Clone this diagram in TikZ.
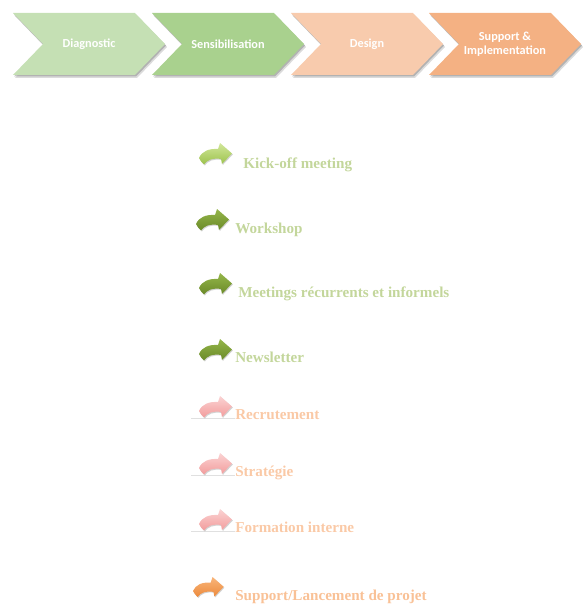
\documentclass[tikz,border=0pt]{standalone}
\usepackage{fontspec}
\setmainfont{Liberation Serif}
\newfontfamily\chevfont{Carlito}
\definecolor{diagfill}{HTML}{C5E0B4}
\definecolor{sensfill}{HTML}{A9D18E}
\definecolor{desfill}{HTML}{F8CBAD}
\definecolor{supfill}{HTML}{F4B183}
\definecolor{greentext}{HTML}{C3D69B}
\definecolor{peachtext}{HTML}{FAC9A6}
\definecolor{orangetext}{HTML}{F9C196}
\definecolor{limetop}{HTML}{D2E79A}
\definecolor{limebot}{HTML}{9CC24C}
\definecolor{olivetop}{HTML}{95B64A}
\definecolor{olivebot}{HTML}{6A8A28}
\definecolor{pinktop}{HTML}{FBD3D3}
\definecolor{pinkbot}{HTML}{F29C9C}
\definecolor{orangetop}{HTML}{F9B57A}
\definecolor{orangebot}{HTML}{EC8A3C}
\begin{document}
\begin{tikzpicture}[x=0.75pt,y=-0.75pt,
  chevtext/.style={font=\chevfont\bfseries\fontsize{9.2}{10.2}\selectfont,
    text=white, align=center, inner sep=0},
  itemtext/.style={font=\bfseries\fontsize{11.35}{13}\selectfont,
    anchor=base west, inner sep=0},
  pics/chevron/.style={code={
    \fill[black!40,opacity=0.35,shift={(2,3)}]
      (0,0) -- (122,0) -- (152,31) -- (122,62) -- (0,62) -- (30,31) -- cycle;
    \fill[black!50,opacity=0.45,shift={(1,1.5)}]
      (0,0) -- (122,0) -- (152,31) -- (122,62) -- (0,62) -- (30,31) -- cycle;
    \fill[#1]
      (0,0) -- (122,0) -- (152,31) -- (122,62) -- (0,62) -- (30,31) -- cycle;
  }},
  pics/bentarrow/.style 2 args={code={
    \fill[black!35,opacity=0.5,shift={(0.8,1)}]
      (0,15) .. controls (3,8) and (10,5.5) .. (19,6) -- (21,0) -- (33,10.5)
      -- (23,21) -- (22,16) .. controls (14,14.5) and (8,17) .. (5,21.5)
      .. controls (3,20) and (1,17) .. (0,15) -- cycle;
    \shade[top color=#1,bottom color=#2]
      (0,15) .. controls (3,8) and (10,5.5) .. (19,6) -- (21,0) -- (33,10.5)
      -- (23,21) -- (22,16) .. controls (14,14.5) and (8,17) .. (5,21.5)
      .. controls (3,20) and (1,17) .. (0,15) -- cycle;
  }},
  pics/baseline/.style={code={
    \draw[black!12,line width=0.4pt] (-8,22.5) -- (36,22.5);
  }}
]
\useasboundingbox (0,0) rectangle (586,610);

% process chevrons
\pic at (13,13)  {chevron=diagfill};
\pic at (152,13) {chevron=sensfill};
\pic at (291,13) {chevron=desfill};
\pic at (429,13) {chevron=supfill};
\node[chevtext] (diag) at (89,44)  {Diagnostic};
\node[chevtext] (sens) at (228,44) {Sensibilisation};
\node[chevtext] (des)  at (367,44) {Design};
\node[chevtext] (sup)  at (505,44) {Support \&\\Implementation};

% action list
\pic at (199,143) {bentarrow={limetop}{limebot}};
\pic at (196,209) {bentarrow={olivetop}{olivebot}};
\pic at (199,273) {bentarrow={olivetop}{olivebot}};
\pic at (199,339) {bentarrow={olivetop}{olivebot}};
\pic at (199,396) {baseline};
\pic at (199,396) {bentarrow={pinktop}{pinkbot}};
\pic at (199,453) {baseline};
\pic at (199,453) {bentarrow={pinktop}{pinkbot}};
\pic at (199,509) {baseline};
\pic at (199,509) {bentarrow={pinktop}{pinkbot}};
\pic[scale=0.93] at (193,577) {bentarrow={orangetop}{orangebot}};

\node[itemtext,text=greentext] (kick) at (243,168) {Kick-off meeting};
\node[itemtext,text=greentext] (work) at (235,233) {Workshop};
\node[itemtext,text=greentext] (meet) at (238,297) {Meetings récurrents et informels};
\node[itemtext,text=greentext] (news) at (235,362) {Newsletter};
\node[itemtext,text=peachtext] (recr) at (235,419) {Recrutement};
\node[itemtext,text=peachtext] (strat) at (235,476) {Stratégie};
\node[itemtext,text=peachtext] (form) at (235,532) {Formation interne};
\node[itemtext,text=orangetext] (launch) at (235,600) {Support/Lancement de projet};
\end{tikzpicture}
\end{document}
